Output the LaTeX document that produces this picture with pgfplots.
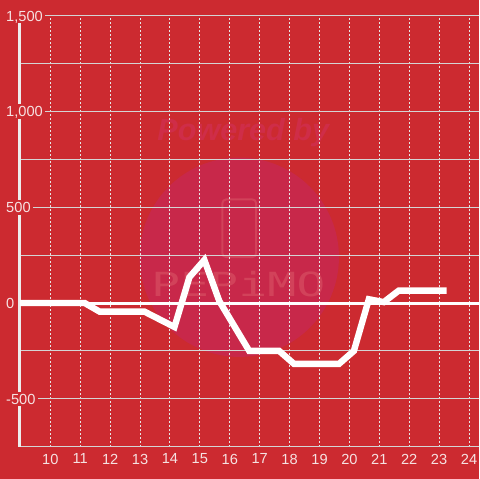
\documentclass[border=0pt]{standalone}
\usepackage{fontspec}
\setmainfont{Liberation Sans}
\newfontfamily\logofont{DejaVu Sans Mono}
\usepackage{pgfplots}
\pgfplotsset{compat=1.18}

\definecolor{bgred}{HTML}{CC2A30}
\definecolor{circ}{HTML}{C8284A}
\definecolor{wmtext}{HTML}{CF2D48}
\definecolor{logo}{HTML}{D2425A}
\definecolor{lbl}{HTML}{F6E2E2}
\definecolor{hgrid}{HTML}{D4D4D4}
\definecolor{vgrid}{HTML}{E6E6E6}

\begin{document}
\begin{tikzpicture}
\begin{axis}[
    scale only axis, width=345pt, height=324pt,
    set layers, clip=false,
    xmin=8.983, xmax=24.317,
    ymin=-750, ymax=1500,
    axis x line=bottom,
    axis y line=left,
    every outer x axis line/.append style={-},
    every inner x axis line/.append style={-},
    every outer y axis line/.append style={-},
    every inner y axis line/.append style={-},
    x axis line style={draw=hgrid, line width=0.75pt, -},
    y axis line style={draw=white!93!black, line width=2.25pt, -},
    xtick={10,...,24},
    ytick={-500,0,500,1000,1500},
    yticklabels={-500,0,500,{1,000},{1,500}},
    minor ytick={-250,250,750,1250},
    major tick length=0pt, minor tick length=0pt,
    xmajorgrids, ymajorgrids, yminorgrids,
    x grid style={draw=vgrid, line width=0.75pt, dash pattern=on 1.5pt off 1.5pt},
    y grid style={draw=hgrid, line width=0.75pt},
    minor y grid style={draw=hgrid, line width=0.75pt},
    tick label style={text=lbl, font=\fontsize{11}{11}\selectfont},
    /pgf/number format/assume math mode=true,
    xticklabel style={anchor=north, inner sep=0pt, yshift=-5.25pt},
    yticklabel style={anchor=west, fill=bgred, inner sep=1.5pt,
        text height=7.9pt, text depth=0pt, xshift=-12pt},
]
% background and watermark, on the lowest layer
\begin{pgfonlayer}{axis background}
\fill[bgred] (rel axis cs:-0.043478,-0.074074) rectangle (rel axis cs:1,1.037037);
\fill[circ] (rel axis cs:0.478261,0.439815) circle[radius=75pt];
\node[text=wmtext, font=\fontsize{23}{23}\selectfont\bfseries\itshape] at (rel axis cs:0.486957,0.729167) {Powered by};
\draw[logo, line width=1.5pt, rounded corners=3pt] (rel axis cs:0.441304,0.439815) rectangle (rel axis cs:0.515217,0.574074);
\node[text=logo, font=\logofont\fontsize{25}{25}\selectfont, xscale=1.45] at (rel axis cs:0.476087,0.377315) {PEPiMO};
\end{pgfonlayer}
\draw[white, line width=2.25pt] ({rel axis cs:0,0} |- {axis cs:10,0}) -- ({rel axis cs:1,0} |- {axis cs:10,0});
\addplot[white, line width=4.8pt, line join=miter] coordinates {
    (8.983,0) (11.15,0) (11.65,-45) (13.15,-45) (14.15,-125) (14.65,135)
    (15.15,225) (15.65,10) (16.15,-120) (16.65,-250) (17.65,-250)
    (18.15,-318) (19.65,-318) (20.15,-250) (20.65,20) (21.15,5)
    (21.65,65) (23.25,65)
};
\end{axis}
\end{tikzpicture}
\end{document}
